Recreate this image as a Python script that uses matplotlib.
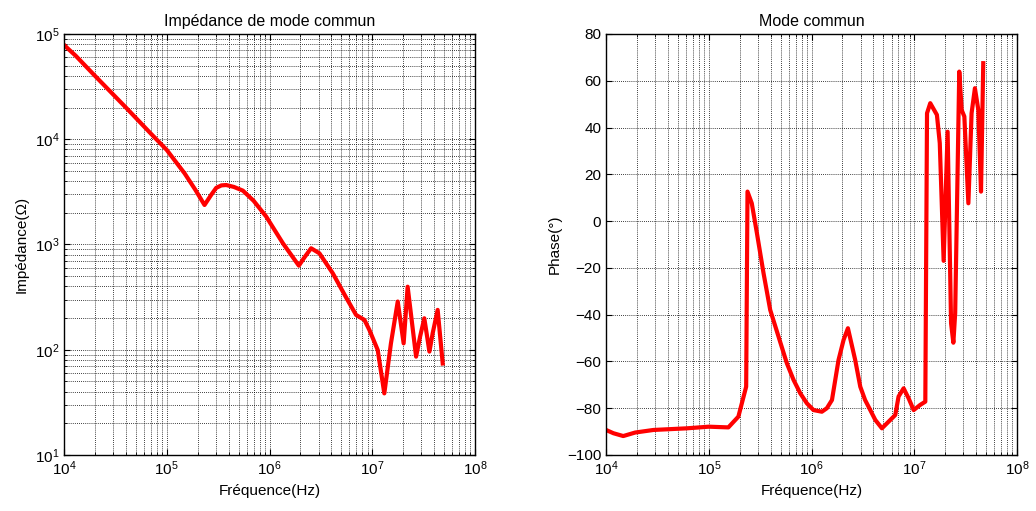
import numpy as np
import matplotlib
matplotlib.use('Agg')
import matplotlib.pyplot as plt
from matplotlib.ticker import LogLocator, NullFormatter

plt.rcParams['font.family'] = ['Liberation Sans', 'DejaVu Sans']
plt.rcParams['font.size'] = 9
plt.rcParams['mathtext.default'] = 'regular'

# Impédance de mode commun (Hz, Ohm)
freq_z = [1.0e4, 1.1e4, 1.3e4, 2.0e4, 4.0e4, 7.0e4, 1.0e5, 1.49e5, 1.9e5, 2.33e5,
          2.7e5, 3.03e5, 3.4e5, 3.79e5, 4.5e5, 5.51e5, 7.0e5, 9.29e5, 1.35e6, 1.93e6,
          2.2e6, 2.54e6, 3.06e6, 4.13e6, 5.57e6,
          6.96e6, 8.39e6, 9.38e6, 1.13e7, 1.31e7, 1.52e7, 1.77e7, 2.02e7, 2.21e7,
          2.67e7, 2.92e7, 3.21e7, 3.6e7, 3.87e7, 4.33e7, 4.85e7]
imp_z = [78700, 72000, 62000, 40000, 20000, 11300, 7900, 4740, 3300, 2370,
         2950, 3450, 3640, 3670, 3520, 3245, 2600, 1838, 1026, 629,
         760, 920, 824, 532, 313,
         214, 192, 154, 99.5, 38.5, 115, 287, 115, 397,
         86, 133, 199, 96, 143, 239, 74]

# Phase en mode commun (Hz, degrés)
freq_p = [1.0e4, 1.18e4, 1.47e4, 1.92e4, 2.89e4, 6.1e4, 1.0e5, 1.55e5, 1.94e5, 2.31e5,
          2.38e5, 2.62e5, 2.94e5, 3.41e5, 3.96e5, 5.75e5, 6.68e5, 7.76e5, 9.0e5,
          1.045e6, 1.26e6, 1.41e6, 1.58e6, 1.83e6, 2.05e6, 2.26e6, 2.66e6, 2.98e6,
          3.32e6, 3.73e6, 4.17e6, 4.84e6, 6.53e6, 7.03e6,
          7.87e6, 8.81e6, 9.86e6, 1.14e7, 1.28e7, 1.33e7, 1.43e7, 1.66e7, 1.77e7,
          1.93e7, 2.11e7, 2.28e7, 2.4e7, 2.5e7, 2.74e7, 2.89e7, 3.07e7, 3.36e7,
          3.61e7, 3.89e7, 4.2e7, 4.46e7, 4.69e7]
phase_p = [-89.3, -90.7, -91.9, -90.4, -89.3, -88.6, -87.9, -88.2, -83.6, -70.8,
           12.6, 7.6, -5.2, -22.3, -38.0, -60.8, -67.9, -73.6, -77.9,
           -80.8, -81.5, -80.0, -76.5, -59.4, -50.8, -45.8, -59.4, -70.8,
           -76.5, -80.8, -85.0, -88.6, -82.9, -75.0,
           -71.5, -75.8, -80.8, -78.6, -77.2, 46.1, 50.4, 45.4, 33.3,
           -17.0, 38.2, -43.7, -52.0, -39.4, 63.9, 47.5, 44.7, 7.6,
           46.1, 56.8, 47.5, 12.6, 67.5]

fig = plt.figure(figsize=(10.36, 5.11), dpi=100)
ax1 = fig.add_axes([0.0618, 0.1096, 0.3967, 0.824])
ax2 = fig.add_axes([0.585, 0.1096, 0.3967, 0.824])

grid_kw = dict(color='k', linestyle=(0, (1, 1.5)), linewidth=0.6)

ax1.loglog(freq_z, imp_z, color='red', lw=3)
ax1.set_xlim(1e4, 1e8)
ax1.set_ylim(1e1, 1e5)
ax1.yaxis.set_minor_locator(LogLocator(base=10, subs=np.arange(2, 10)))
ax1.yaxis.set_minor_formatter(NullFormatter())
ax1.grid(True, which='both', **grid_kw)
ax1.set_title('Impédance de mode commun', fontsize=11.5)
ax1.set_xlabel('Fréquence(Hz)', fontsize=11)
ax1.set_ylabel('Impédance(Ω)', fontsize=11)

ax2.semilogx(freq_p, phase_p, color='red', lw=3)
ax2.set_xlim(1e4, 1e8)
ax2.set_ylim(-100, 80)
ax2.set_yticks(np.arange(-100, 81, 20))
ax2.grid(True, which='major', **grid_kw)
ax2.grid(True, which='minor', axis='x', **grid_kw)
ax2.set_title('Mode commun', fontsize=11.5)
ax2.set_xlabel('Fréquence(Hz)', fontsize=11)
ax2.set_ylabel('Phase(°)', fontsize=11)

for ax in (ax1, ax2):
    ax.xaxis.set_minor_locator(LogLocator(base=10, subs=np.arange(2, 10)))
    ax.xaxis.set_minor_formatter(NullFormatter())
    ax.tick_params(which='both', direction='in', top=True, right=True, labelsize=11)
    ax.tick_params(which='major', length=4)
    ax.tick_params(which='minor', length=2)
    for s in ax.spines.values():
        s.set_linewidth(1.0)

fig.savefig('out.png', dpi=100)
